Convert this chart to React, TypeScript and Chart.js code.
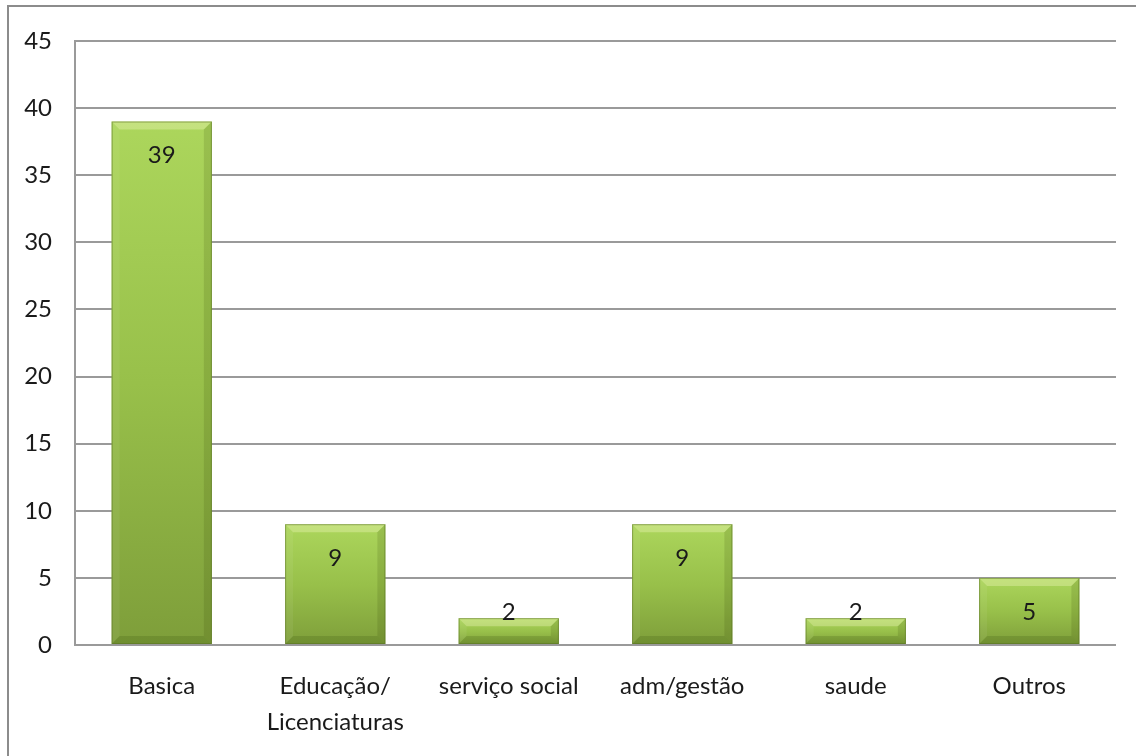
import React, { useEffect, useRef } from 'react';
import { Chart, registerables } from 'chart.js';

Chart.register(...registerables);

const categories: (string | string[])[] = [
  'Basica',
  ['Educação/', 'Licenciaturas'],
  'serviço social',
  'adm/gestão',
  'saude',
  'Outros',
];
const values: number[] = [39, 9, 2, 9, 2, 5];
const yMin = 0;
const yMax = 45;
const yStep = 5;

const FONT = 'Lato, "Open Sans", sans-serif';

const bevelPlugin = {
  id: 'bevelBars',
  afterDatasetsDraw(chart: any) {
    const ctx = chart.ctx as CanvasRenderingContext2D;
    const meta = chart.getDatasetMeta(0);
    meta.data.forEach((el: any, i: number) => {
      const { x, y, base, width } = el.getProps(['x', 'y', 'base', 'width'], true);
      const l = x - width / 2;
      const r = x + width / 2;
      const t = Math.min(y, base);
      const b = Math.max(y, base);
      const bv = Math.min(8, (b - t) / 2);
      ctx.save();
      const poly = (pts: number[][], fill: string) => {
        ctx.beginPath();
        ctx.moveTo(pts[0][0], pts[0][1]);
        for (let k = 1; k < pts.length; k++) ctx.lineTo(pts[k][0], pts[k][1]);
        ctx.closePath();
        ctx.fillStyle = fill;
        ctx.fill();
      };
      poly([[l, t], [r, t], [r - bv, t + bv], [l + bv, t + bv]], 'rgba(255,255,210,0.30)');
      poly([[l, t], [l + bv, t + bv], [l + bv, b - bv], [l, b]], 'rgba(255,255,255,0.06)');
      poly([[r, t], [r, b], [r - bv, b - bv], [r - bv, t + bv]], 'rgba(40,60,0,0.14)');
      poly([[l, b], [r, b], [r - bv, b - bv], [l + bv, b - bv]], 'rgba(40,60,0,0.16)');
      ctx.strokeStyle = 'rgba(90,115,35,0.55)';
      ctx.lineWidth = 1;
      ctx.strokeRect(l + 0.5, t + 0.5, r - l - 1, b - t - 1);

      // data label
      const ly = Math.min(t + 34, b - 32);
      ctx.fillStyle = '#1a1a1a';
      ctx.font = `24px ${FONT}`;
      ctx.textAlign = 'center';
      ctx.textBaseline = 'middle';
      ctx.fillText(String(values[i]), x, ly);
      ctx.restore();
    });
  },
};

export default function App() {
  const ref = useRef<HTMLCanvasElement | null>(null);

  useEffect(() => {
    if (!ref.current) return;
    const chart = new Chart(ref.current, {
      type: 'bar',
      data: {
        labels: categories as any,
        datasets: [
          {
            data: values,
            backgroundColor: (c: any) => {
              const ch = c.chart;
              if (!ch.chartArea || c.type !== 'data') return '#9cc24c';
              const ys = ch.scales.y;
              const top = ys.getPixelForValue(values[c.dataIndex]);
              const bottom = ys.getPixelForValue(0);
              const g = ch.ctx.createLinearGradient(0, top, 0, bottom);
              g.addColorStop(0, '#acd65c');
              g.addColorStop(0.5, '#98c04a');
              g.addColorStop(1, '#7e9e3a');
              return g;
            },
            borderWidth: 0,
            categoryPercentage: 1,
            barPercentage: 0.578,
          },
        ],
      },
      options: {
        responsive: false,
        animation: false,
        layout: { padding: { left: 10, right: 20, top: 41, bottom: 0 } },
        plugins: {
          legend: { display: false },
          tooltip: { enabled: false },
          title: { display: false },
        },
        scales: {
          x: {
            grid: { display: false, drawTicks: false },
            border: { display: false },
            ticks: {
              color: '#1a1a1a',
              font: { family: FONT, size: 24, lineHeight: 1.5 },
              padding: 23,
              maxRotation: 0,
              autoSkip: false,
            },
            afterFit: (s: any) => {
              s.height = 111;
            },
          },
          y: {
            min: yMin,
            max: yMax,
            ticks: {
              stepSize: yStep,
              color: '#1a1a1a',
              font: { family: FONT, size: 24 },
              padding: 23,
            },
            grid: { color: '#9a9a9a', lineWidth: 2, drawTicks: false },
            border: { display: true, color: '#9a9a9a', width: 2 },
            afterFit: (s: any) => {
              s.width = 65;
            },
          },
        },
      },
      plugins: [bevelPlugin],
    });
    return () => chart.destroy();
  }, []);

  return (
    <div style={{ position: 'absolute', left: 0, top: 0, width: 1136, height: 756, background: '#fff', overflow: 'hidden' }}>
      <div
        style={{
          position: 'absolute',
          left: 7,
          top: 5,
          right: -10,
          bottom: -10,
          borderTop: '2px solid #8c8c8c',
          borderLeft: '2px solid #8c8c8c',
        }}
      />
      <canvas ref={ref} width={1136} height={756} style={{ position: 'absolute', left: 0, top: 0 }} />
    </div>
  );
}
